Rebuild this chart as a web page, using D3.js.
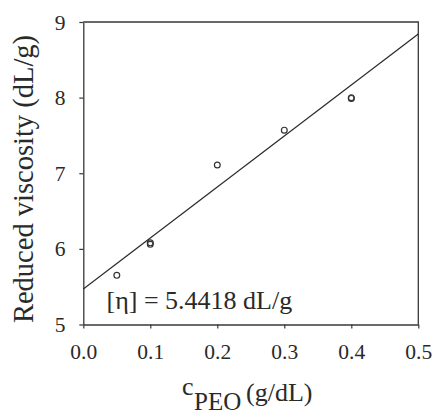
<!DOCTYPE html>
<html>
<head>
<meta charset="utf-8">
<script src="https://cdn.jsdelivr.net/npm/d3@7"></script>
<style>
  html, body { margin: 0; padding: 0; background: #fff; }
  svg { display: block; }
  text { font-family: "Liberation Serif", "DejaVu Serif", serif; fill: #2a2a2a; }
</style>
</head>
<body>
<script>
// ---- data ----
const xTicks = [0, 0.1, 0.2, 0.3, 0.4, 0.5];
const yTicks = [5, 6, 7, 8, 9];
const concentration = [0.05, 0.1, 0.1, 0.2, 0.3, 0.4, 0.4];
const reducedViscosity = [5.65, 6.06, 6.08, 7.11, 7.57, 7.99, 8.0];
const fitX = [0, 0.5];
const fitY = [5.47, 8.84];
const annotation = "[η] = 5.4418 dL/g";

// ---- layout ----
const W = 435, H = 417;
const mLeft = 83.3, mRight = 418.3, mTop = 22, mBottom = 324.5;

const svg = d3.select("body").append("svg").attr("width", W).attr("height", H);

const x = d3.scaleLinear().domain([0, 0.5]).range([mLeft, mRight]);
const y = d3.scaleLinear().domain([5, 9]).range([mBottom, mTop]);

const lineColor = "#383838";

// left axis
const gy = svg.append("g").attr("transform", `translate(${mLeft},0)`)
  .call(d3.axisLeft(y).tickValues(yTicks).tickFormat(d3.format("d")).tickSize(4).tickSizeOuter(0));
gy.select(".domain").attr("stroke", lineColor).attr("stroke-width", 1.3);
gy.selectAll(".tick line").attr("stroke", lineColor).attr("stroke-width", 1.2);
gy.selectAll(".tick text")
  .attr("x", -17.8).attr("dy", "0.33em")
  .style("font-size", "21.5px").style("font-family", "Liberation Serif").attr("fill", "#2a2a2a");

// bottom axis
const gx = svg.append("g").attr("transform", `translate(0,${mBottom})`)
  .call(d3.axisBottom(x).tickValues(xTicks).tickFormat(d3.format(".1f")).tickSize(4).tickSizeOuter(0));
gx.select(".domain").attr("stroke", lineColor).attr("stroke-width", 1.3);
gx.selectAll(".tick line").attr("stroke", lineColor).attr("stroke-width", 1.2);
gx.selectAll(".tick text")
  .attr("y", 0).attr("dy", 0).attr("transform", "translate(0,34)")
  .style("font-size", "21.5px").style("font-family", "Liberation Serif").attr("fill", "#2a2a2a");

// top and right frame lines
svg.append("path")
  .attr("d", d3.line()([[x(0), y(9)], [x(0.5), y(9)], [x(0.5), y(5)]]))
  .attr("fill", "none").attr("stroke", lineColor).attr("stroke-width", 1.3);

// fit line
svg.append("path")
  .attr("d", d3.line().x((d, i) => x(fitX[i])).y((d, i) => y(fitY[i]))(fitX))
  .attr("fill", "none").attr("stroke", "#2a2a2a").attr("stroke-width", 1.2);

// data markers
svg.append("g").selectAll("circle")
  .data(concentration)
  .join("circle")
  .attr("cx", (d) => x(d))
  .attr("cy", (d, i) => y(reducedViscosity[i]))
  .attr("r", 2.9)
  .attr("fill", "none")
  .attr("stroke", "#333")
  .attr("stroke-width", 1.2);

// annotation
svg.append("text")
  .attr("x", 106.5).attr("y", 308.5)
  .style("font-size", "26px")
  .text(annotation);

// y-axis title
svg.append("text")
  .attr("transform", `translate(33,179) rotate(-90)`)
  .attr("text-anchor", "middle")
  .style("font-size", "28.5px")
  .text("Reduced viscosity (dL/g)");

// x-axis title
const xt = svg.append("g");
xt.append("text").attr("x", 182).attr("y", 395).style("font-size", "26px").text("c");
xt.append("text").attr("x", 194).attr("y", 410).style("font-size", "25px").text("PEO");
xt.append("text").attr("x", 246).attr("y", 400.7).style("font-size", "26px").text("(g/dL)");
</script>
</body>
</html>
